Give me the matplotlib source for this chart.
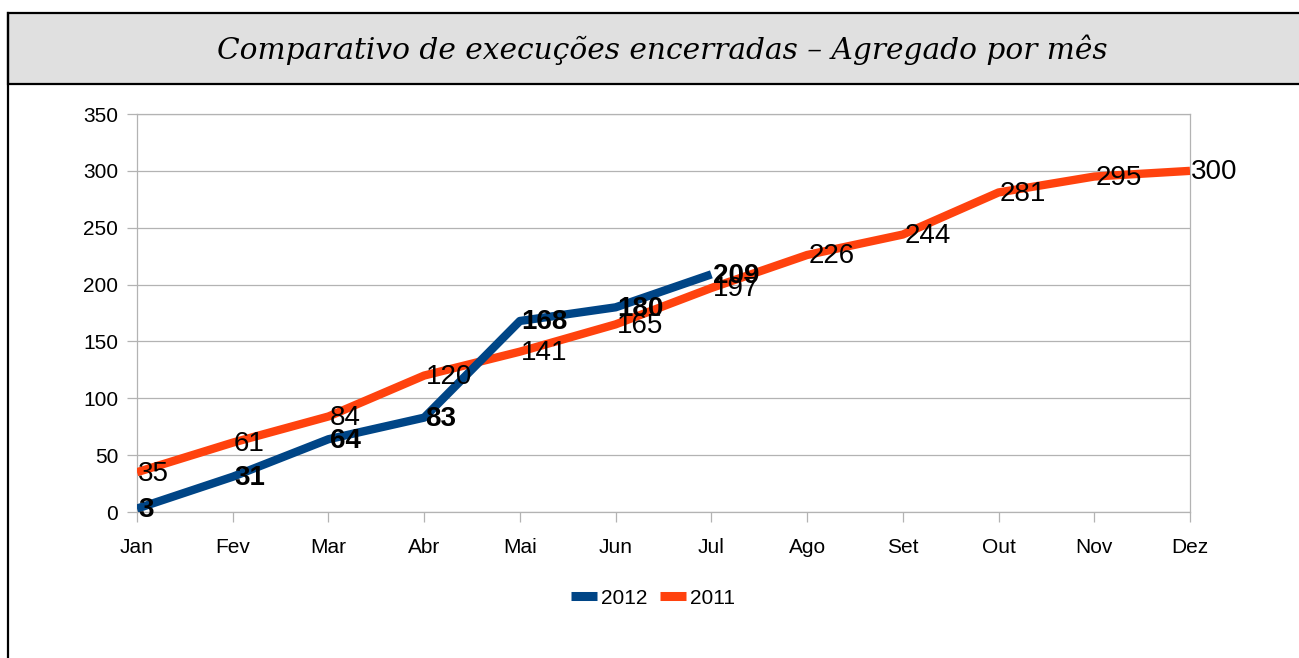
import matplotlib
matplotlib.use("Agg")
import matplotlib.pyplot as plt
from matplotlib.lines import Line2D
from matplotlib.patches import Rectangle

months = ["Jan", "Fev", "Mar", "Abr", "Mai", "Jun", "Jul", "Ago", "Set", "Out", "Nov", "Dez"]
values_2012 = [3, 31, 64, 83, 168, 180, 209]
values_2011 = [35, 61, 84, 120, 141, 165, 197, 226, 244, 281, 295, 300]
y_ticks = [0, 50, 100, 150, 200, 250, 300, 350]

BLUE = "#004586"
ORANGE = "#FF420E"
GRID = "#b3b3b3"

plt.rcParams["font.family"] = ["Liberation Sans", "DejaVu Sans"]

W, H = 1299, 658
fig = plt.figure(figsize=(W / 100, H / 100), dpi=100)

# ----------------------------------------------------------
# Frame and title box
# ----------------------------------------------------------
def fx(px):
    return px / W

def fy(py):
    return 1 - py / H

fig.patches.append(Rectangle((fx(8), fy(84)), fx(1320) - fx(8), fy(13) - fy(84),
                             transform=fig.transFigure, facecolor="#e0e0e0",
                             edgecolor="black", linewidth=1.6, zorder=0))
fig.add_artist(Line2D([fx(8), fx(8)], [fy(13), fy(660)], transform=fig.transFigure,
                      color="black", linewidth=1.6))

fig.text(fx(662), fy(50), "Comparativo de execuções encerradas – Agregado por mês",
         ha="center", va="center", fontsize=21.3, style="italic",
         family=["DejaVu Serif"])

# ----------------------------------------------------------
# Axes
# ----------------------------------------------------------
left, right, top, bottom = 137, 1190, 114, 512
ax = fig.add_axes([fx(left), fy(bottom), fx(right) - fx(left), fy(top) - fy(bottom)])

x = list(range(len(months)))

ax.plot(x, values_2011, color=ORANGE, linewidth=6, solid_capstyle="butt",
        solid_joinstyle="round", zorder=3, label="2011")
ax.plot(x[:len(values_2012)], values_2012, color=BLUE, linewidth=6,
        solid_capstyle="butt", solid_joinstyle="round", zorder=4, label="2012")

for i, v in enumerate(values_2011):
    ax.annotate(str(v), (i, v), xytext=(1, -1), textcoords="offset points",
                ha="left", va="center", fontsize=20, zorder=6)

for i, v in enumerate(values_2012):
    ax.annotate(str(v), (i, v), xytext=(1, -1), textcoords="offset points",
                ha="left", va="center", fontsize=20, fontweight="bold", zorder=7)

ax.set_xlim(0, len(months) - 1)
ax.set_ylim(0, 350)
ax.set_xticks(x)
ax.set_xticklabels(months)
ax.set_yticks(y_ticks)

ax.yaxis.grid(True, color=GRID, linewidth=0.9)
ax.set_axisbelow(True)
for s in ax.spines.values():
    s.set_color(GRID)
    s.set_linewidth(0.9)

ax.tick_params(axis="both", colors=GRID, labelcolor="black", labelsize=15,
               length=7.5, width=0.9, direction="out")
ax.tick_params(axis="y", pad=6)
ax.tick_params(axis="x", pad=11)

for t in ax.texts:
    t.set_clip_on(False)

# ----------------------------------------------------------
# Legend
# ----------------------------------------------------------
handles = [Line2D([], [], color=BLUE, linewidth=6.5, solid_capstyle="butt"),
           Line2D([], [], color=ORANGE, linewidth=6.5, solid_capstyle="butt")]
fig.legend(handles, ["2012", "2011"], loc="center", bbox_to_anchor=(fx(653), fy(598)),
           ncol=2, frameon=False, fontsize=15, handlelength=1.25,
           handletextpad=0.2, columnspacing=0.6)

fig.savefig("out.png", dpi=100)
